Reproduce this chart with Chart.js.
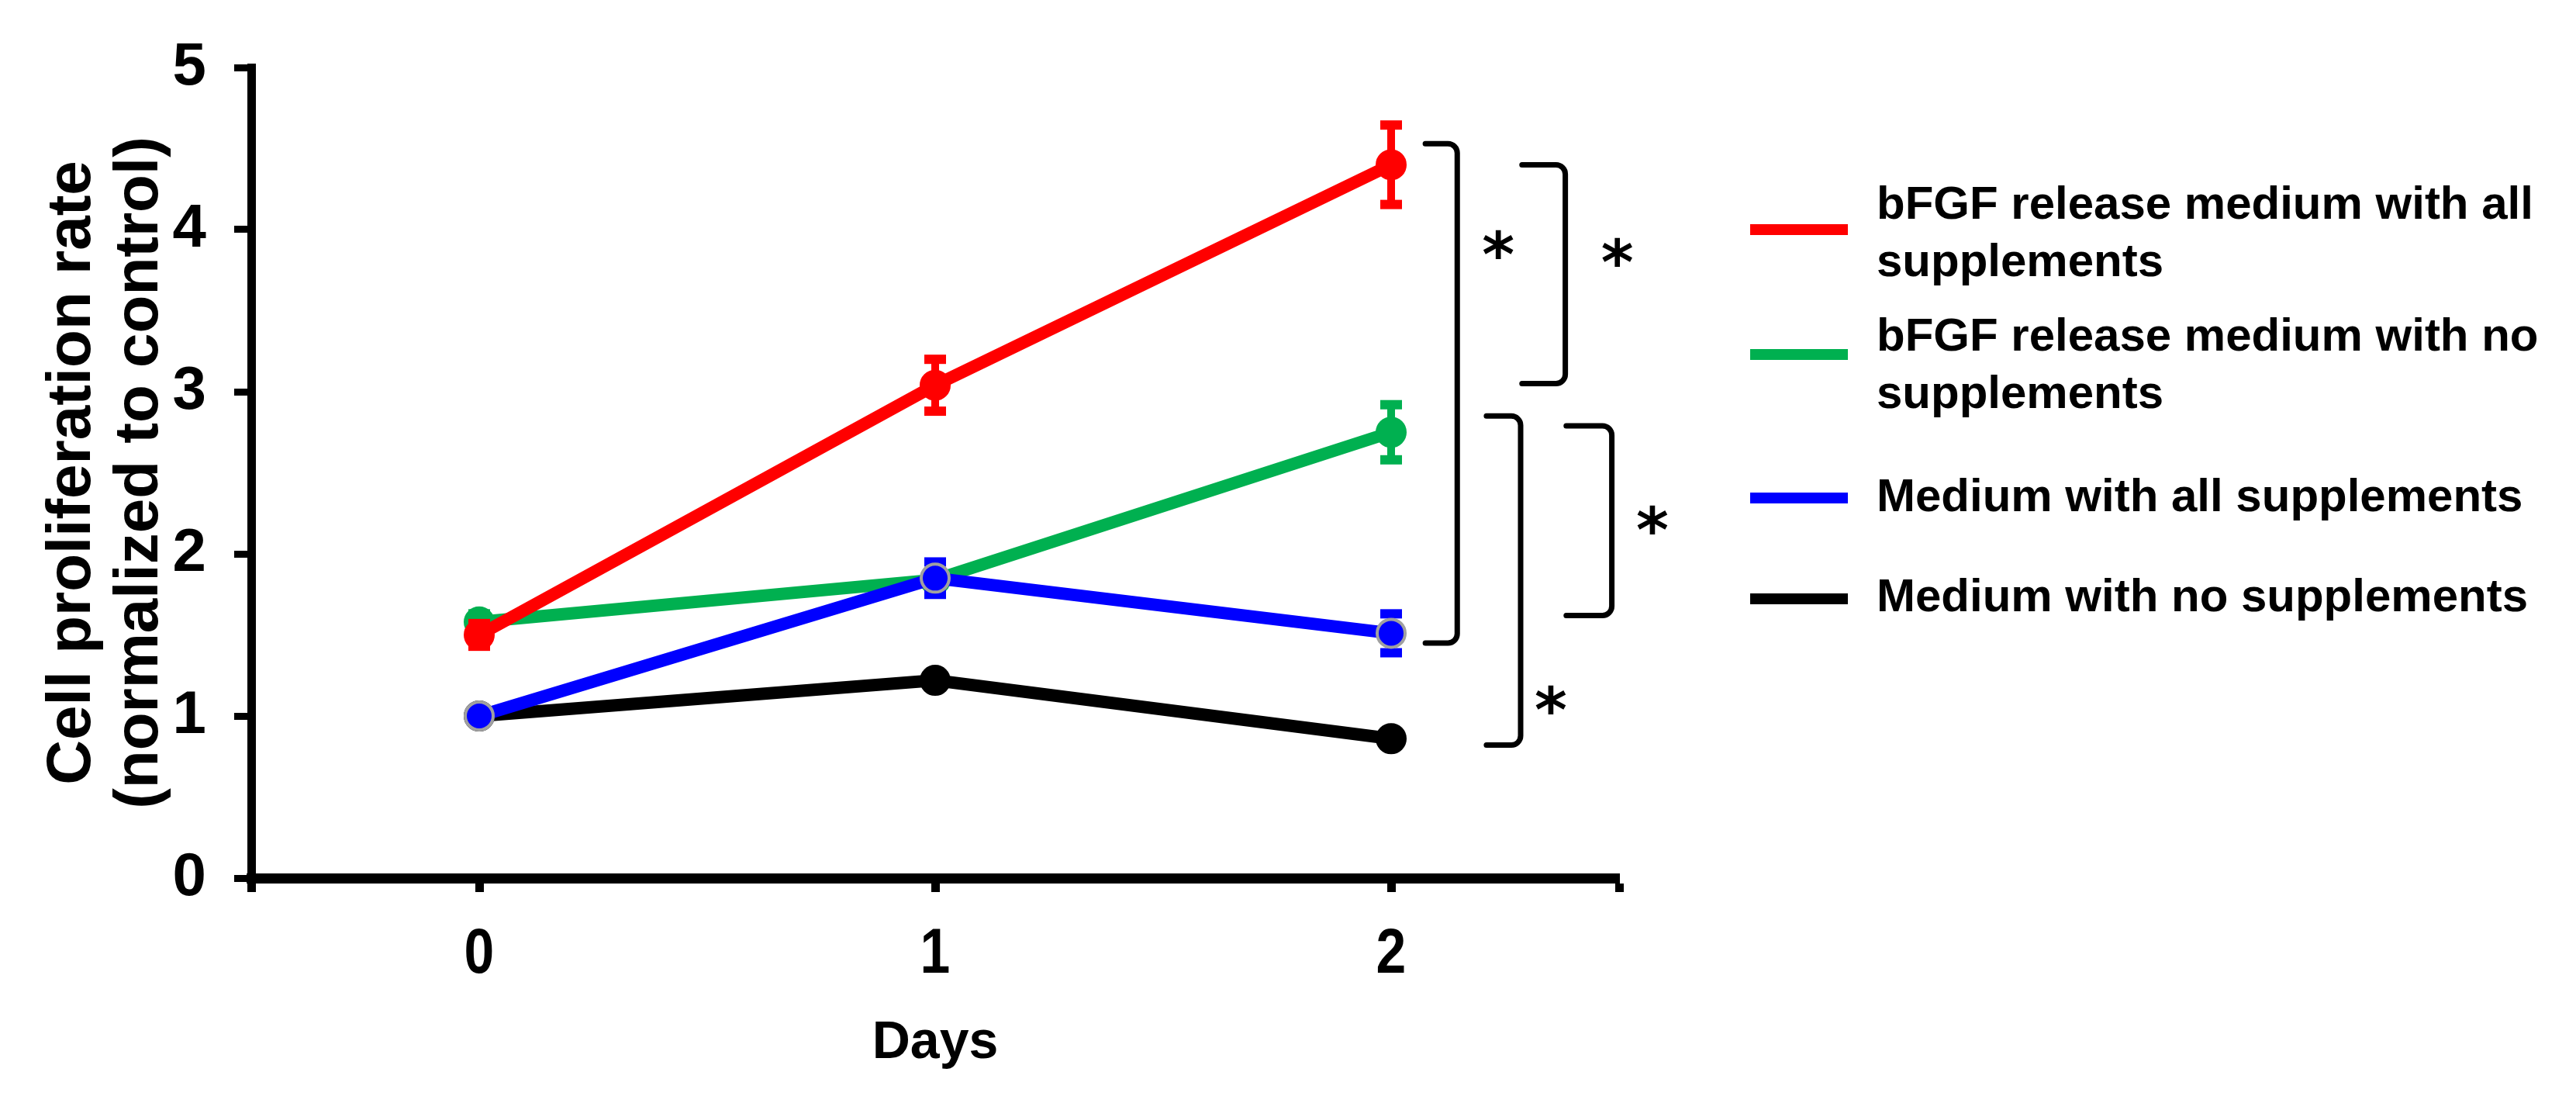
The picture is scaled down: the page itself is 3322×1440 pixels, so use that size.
<!DOCTYPE html>
<html>
<head>
<meta charset="utf-8">
<script src="https://cdn.jsdelivr.net/npm/chart.js@4"></script>
<style>
  html, body { margin: 0; padding: 0; background: #fff; }
  #wrap { width: 3322px; height: 1440px; }
</style>
</head>
<body>
<div id="wrap"><canvas id="prolifChart" width="3322" height="1440"></canvas></div>
<script>
// Days on the x axis
const days = [0, 1, 2];
const yTicks = [0, 1, 2, 3, 4, 5];

// Mean cell proliferation rate (normalized to control)
const bfgfAll = [1.50, 3.04, 4.40];
const bfgfNone = [1.58, 1.84, 2.75];
const mediumAll = [1.00, 1.85, 1.51];
const mediumNone = [1.00, 1.22, 0.86];

// Error bars (+/-)
const bfgfAllErr = [0.07, 0.16, 0.245];
const bfgfNoneErr = [0.05, 0.05, 0.17];
const mediumAllErr = [0.04, 0.10, 0.12];
const mediumNoneErr = [0.02, 0.03, 0.03];

// Legend text, wrapped as in the figure
const seriesNames = [
    ['bFGF release medium with all', 'supplements'],
    ['bFGF release medium with no', 'supplements'],
    ['Medium with all supplements'],
    ['Medium with no supplements']
];

// Significance brackets (data units)
const brackets = [
    { x0: 2.075, x1: 2.145, top: 4.53, bottom: 1.45, starX: 2.235, starY: 3.91 },
    { x0: 2.287, x1: 2.382, top: 4.40, bottom: 3.05, starX: 2.496, starY: 3.86 },
    { x0: 2.209, x1: 2.284, top: 2.85, bottom: 0.82, starX: 2.350, starY: 1.10 },
    { x0: 2.384, x1: 2.484, top: 2.79, bottom: 1.62, starX: 2.573, starY: 2.21 }
];

const FONT = "'Liberation Sans', Arial, sans-serif";

function toPoints(vals) {
    return days.map((d, i) => ({ x: d, y: vals[i] }));
}

function makeSet(idx, vals, errs, color, pointBorder, order) {
    return {
        label: seriesNames[idx].join(' '),
        data: toPoints(vals),
        errors: errs,
        borderColor: color,
        backgroundColor: color,
        pointBackgroundColor: color,
        pointBorderColor: pointBorder,
        pointBorderWidth: 4,
        pointRadius: 18,
        borderWidth: 16,
        tension: 0,
        order: order
    };
}

function strokeLine(ctx, x1, y1, x2, y2) {
    ctx.beginPath();
    ctx.moveTo(x1, y1);
    ctx.lineTo(x2, y2);
    ctx.stroke();
}

// Error bars drawn just before each dataset so the point sits on top
const errorBars = {
    id: 'errorBars',
    beforeDatasetDraw(chart, args) {
        const ds = chart.data.datasets[args.index];
        const yScale = chart.scales.y;
        const ctx = chart.ctx;
        ctx.save();
        ctx.strokeStyle = ds.borderColor;
        ds.errors.forEach((e, i) => {
            const pt = args.meta.data[i];
            const hi = yScale.getPixelForValue(ds.data[i].y + e);
            const lo = yScale.getPixelForValue(ds.data[i].y - e);
            ctx.lineWidth = 10;
            strokeLine(ctx, pt.x, hi, pt.x, lo);
            ctx.lineWidth = 12;
            strokeLine(ctx, pt.x - 14, hi, pt.x + 14, hi);
            strokeLine(ctx, pt.x - 14, lo, pt.x + 14, lo);
        });
        ctx.restore();
    }
};

// Brackets with asterisks
const sigBrackets = {
    id: 'sigBrackets',
    afterDatasetsDraw(chart) {
        const ctx = chart.ctx;
        const xs = chart.scales.x, ys = chart.scales.y;
        ctx.save();
        ctx.strokeStyle = '#000';
        ctx.fillStyle = '#000';
        ctx.lineWidth = 7;
        ctx.lineJoin = 'round';
        ctx.lineCap = 'round';
        ctx.font = "bold 80px 'DejaVu Sans', sans-serif";
        ctx.textAlign = 'center';
        ctx.textBaseline = 'alphabetic';
        brackets.forEach(b => {
            const x0 = xs.getPixelForValue(b.x0), x1 = xs.getPixelForValue(b.x1);
            const yt = ys.getPixelForValue(b.top), yb = ys.getPixelForValue(b.bottom);
            ctx.beginPath();
            ctx.moveTo(x0, yt);
            ctx.arcTo(x1, yt, x1, yb, 12);
            ctx.arcTo(x1, yb, x0, yb, 12);
            ctx.lineTo(x0, yb);
            ctx.stroke();
            const m = ctx.measureText('*');
            const sx = xs.getPixelForValue(b.starX), sy = ys.getPixelForValue(b.starY);
            const off = (m.actualBoundingBoxAscent - m.actualBoundingBoxDescent) / 2;
            ctx.fillText('*', sx, sy + off);
        });
        ctx.restore();
    }
};

// Day labels are slightly condensed in the figure, so draw them squeezed
const dayLabels = {
    id: 'dayLabels',
    afterDraw(chart) {
        const xs = chart.scales.x;
        const ctx = chart.ctx;
        ctx.save();
        ctx.font = 'bold 82px ' + FONT;
        ctx.fillStyle = '#000';
        ctx.textAlign = 'center';
        ctx.textBaseline = 'middle';
        xs.ticks.forEach(t => {
            if (!days.includes(t.value)) return;
            ctx.save();
            ctx.translate(xs.getPixelForValue(t.value), xs.top + 99);
            ctx.scale(0.85, 1);
            ctx.fillText(String(t.value), 0, 0);
            ctx.restore();
        });
        ctx.restore();
    }
};

// Legend on the right, lines + wrapped text
const sideLegend = {
    id: 'sideLegend',
    afterDraw(chart) {
        const ctx = chart.ctx;
        const lineYs = [296, 457, 642, 772];
        const textYs = [265, 435, 642, 771];
        ctx.save();
        ctx.font = 'bold 60px ' + FONT;
        ctx.textAlign = 'left';
        ctx.textBaseline = 'middle';
        ctx.fillStyle = '#000';
        chart.data.datasets.forEach((ds, i) => {
            ctx.strokeStyle = ds.borderColor;
            ctx.lineWidth = 14;
            strokeLine(ctx, 2257, lineYs[i], 2383, lineYs[i]);
            seriesNames[i].forEach((t, k) => {
                ctx.fillText(t, 2420, textYs[i] + k * 74);
            });
        });
        ctx.restore();
    }
};

const ctx = document.getElementById('prolifChart').getContext('2d');
const prolifChart = new Chart(ctx, {
    type: 'line',
    data: {
        datasets: [
            makeSet(0, bfgfAll, bfgfAllErr, '#FF0000', '#FF0000', 0),
            makeSet(1, bfgfNone, bfgfNoneErr, '#00B050', '#00B050', 2),
            makeSet(2, mediumAll, mediumAllErr, '#0000FF', '#A0A0A0', 1),
            makeSet(3, mediumNone, mediumNoneErr, '#000000', '#000000', 3)
        ]
    },
    options: {
        responsive: false,
        devicePixelRatio: 1,
        animation: false,
        layout: { padding: { left: 50, top: 87, right: 1234, bottom: 0 } },
        plugins: {
            legend: { display: false },
            tooltip: { enabled: false }
        },
        scales: {
            x: {
                type: 'linear',
                min: -0.5,
                max: 2.5,
                afterBuildTicks: s => { s.ticks = [-0.5, ...days, 2.5].map(v => ({ value: v })); },
                afterFit: s => { s.height = 308; },
                ticks: {
                    callback: v => days.includes(v) ? String(v) : '',
                    font: { family: FONT, size: 82, weight: 'bold' },
                    color: 'rgba(0,0,0,0)',
                    padding: 30,
                    maxRotation: 0,
                    autoSkip: false
                },
                grid: { drawOnChartArea: false, drawTicks: true, tickLength: 18, tickWidth: 11, color: '#000' },
                border: { color: '#000', width: 13 },
                title: {
                    display: true,
                    text: 'Days',
                    color: '#000',
                    font: { family: FONT, size: 68, weight: 'bold' },
                    padding: { top: 0, bottom: 54 }
                }
            },
            y: {
                min: 0,
                max: 5,
                afterBuildTicks: s => { s.ticks = yTicks.map(v => ({ value: v })); },
                afterFit: s => { s.width = 274; },
                ticks: {
                    font: { family: FONT, size: 78, weight: 'bold' },
                    color: '#000',
                    padding: 36
                },
                grid: { drawOnChartArea: false, drawTicks: true, tickLength: 22, tickWidth: 9, color: '#000' },
                border: { color: '#000', width: 11 },
                title: {
                    display: true,
                    text: ['Cell proliferation rate', '(normalized to control)'],
                    color: '#000',
                    font: { family: FONT, size: 80, weight: 'bold', lineHeight: 1.09 },
                    padding: { top: 0, bottom: 0 }
                }
            }
        }
    },
    plugins: [errorBars, sigBrackets, dayLabels, sideLegend]
});
</script>
</body>
</html>
